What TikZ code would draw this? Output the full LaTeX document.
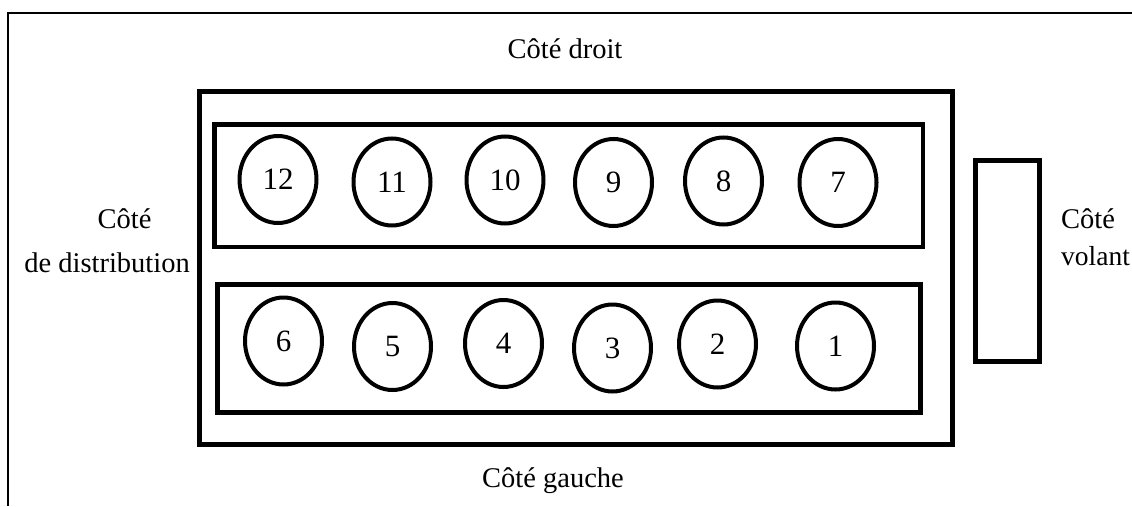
\documentclass[tikz,border=0pt]{standalone}
\usepackage{fontspec}
\setmainfont{Liberation Serif}
\usetikzlibrary{shapes.geometric}
\begin{document}
\begin{tikzpicture}[x=1pt,y=-1pt,
  lbl/.style={inner sep=0pt,font=\fontsize{28.5}{30}\selectfont},
  block/.style={draw,rectangle,line width=5pt,inner sep=0pt},
  bank/.style={draw,rectangle,line width=4.5pt,inner sep=0pt},
  cyl/.style={draw,ellipse,line width=4pt,inner sep=0pt,minimum width=77pt,minimum height=87pt,font=\fontsize{31}{33}\selectfont},
  frame/.style={line width=2pt}]
\useasboundingbox (0,0) rectangle (1132,506);

% open page frame (left and top edges)
\coordinate (fb) at (7.5,506);
\coordinate (fc) at (7.5,12.8);
\coordinate (fr) at (1132,12.8);
\draw[frame] (fb) -- (fc) -- (fr);

% engine block, the two cylinder banks and the flywheel
\node[block,minimum width=753.5pt,minimum height=353pt] (engine) at (575.75,267.5) {};
\node[bank,minimum width=708.5pt,minimum height=122.5pt] (right bank) at (568.75,185.75) {};
\node[bank,minimum width=703pt,minimum height=128pt] (left bank) at (569,348.5) {};
\node[bank,minimum width=64pt,minimum height=201pt] (flywheel) at (1007.5,261) {};

% cylinders, right bank
\node[cyl] (c12) at (278,179.5) {12};
\node[cyl] (c11) at (392,182) {11};
\node[cyl] (c10) at (505,180) {10};
\node[cyl] (c9) at (613.5,182.5) {9};
\node[cyl] (c8) at (723.5,181) {8};
\node[cyl] (c7) at (838,182.5) {7};

% cylinders, left bank
\node[cyl] (c6) at (283.5,341) {6};
\node[cyl] (c5) at (392.5,346.5) {5};
\node[cyl] (c4) at (503.5,343.5) {4};
\node[cyl] (c3) at (612.5,348) {3};
\node[cyl] (c2) at (717.5,344) {2};
\node[cyl] (c1) at (835.5,346) {1};

% side labels
\node[lbl,anchor=base] (droit) at (565,58) {Côté droit};
\node[lbl,anchor=base] (gauche) at (553,487) {Côté gauche};
\node[lbl,anchor=base] (distA) at (124.5,228) {Côté};
\node[lbl,anchor=base east] (distB) at (190,272) {de distribution};
\node[lbl,anchor=base west] (volA) at (1061,228) {Côté};
\node[lbl,anchor=base west,font=\fontsize{27.5}{29}\selectfont] (volB) at (1061,265) {volant};
\end{tikzpicture}
\end{document}
